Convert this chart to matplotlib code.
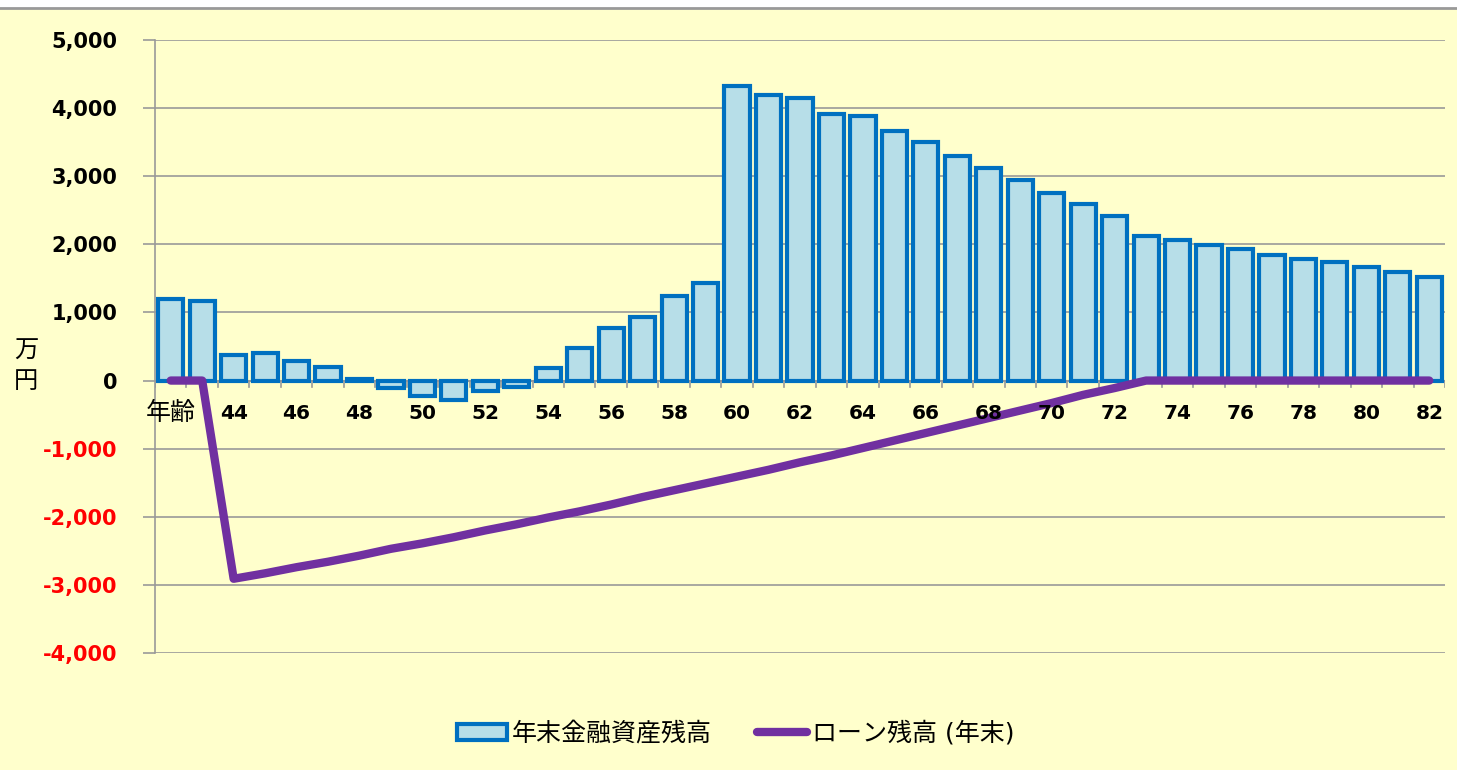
import numpy as np
import matplotlib
matplotlib.use('Agg')
import matplotlib.pyplot as plt
from matplotlib.patches import Rectangle
from matplotlib.lines import Line2D
from matplotlib.ticker import FuncFormatter

plt.rcParams['font.family'] = ['DejaVu Sans', 'Noto Sans CJK JP']

ages = list(range(42, 83))
assets = [1200, 1175, 380, 410, 290, 205, 30, -110, -220, -280,
          -150, -100, 190, 485, 765, 940, 1235, 1430, 4320, 4190,
          4150, 3920, 3880, 3670, 3500, 3300, 3120, 2950, 2760, 2590,
          2420, 2120, 2060, 1985, 1925, 1850, 1790, 1735, 1660, 1600,
          1520]
loan = [0, 0, -2910, -2830, -2740, -2660, -2570, -2470, -2390, -2300,
        -2200, -2110, -2010, -1920, -1820, -1710, -1610, -1510, -1410, -1310,
        -1200, -1100, -990, -880, -770, -660, -550, -440, -330, -210,
        -110, 0, 0, 0, 0, 0, 0, 0, 0, 0,
        0]
tick_labels = ['年齢' if a == 42 else str(a) for a in ages]

W, H = 1457, 770
fig = plt.figure(figsize=(W / 100, H / 100), dpi=100, facecolor='white')
# yellow chart area with grey top border
fig.add_artist(Rectangle((0, 0), 1, 1 - 9 / H, transform=fig.transFigure,
                         facecolor='#FFFFCC', edgecolor='none', zorder=-2))
fig.add_artist(Line2D([0, 1], [1 - 8 / H, 1 - 8 / H], transform=fig.transFigure,
                      color='#999999', lw=2))

ax = fig.add_axes([155 / W, 1 - 653 / H, (1445 - 155) / W, (653 - 40) / H])
ax.set_facecolor('none')

x = np.arange(len(ages))
bars = ax.bar(x, assets, width=0.8, color='#B7DEE8', edgecolor='#0070C0',
              linewidth=3, zorder=2, label='年末金融資産残高')
line, = ax.plot(x, loan, color='#7030A0', lw=6, solid_capstyle='round', zorder=3,
                label='ローン残高 (年末)')

ax.set_xlim(-0.5, len(ages) - 0.5)
ax.set_ylim(-4000, 5000)
ax.set_yticks(np.arange(-4000, 5001, 1000))
ax.yaxis.set_major_formatter(FuncFormatter(lambda v, p: f'{int(v):,}'))
ax.grid(axis='y', color='#999999', lw=1.2, zorder=0)
ax.set_axisbelow(True)

for s in ['top', 'right', 'bottom']:
    ax.spines[s].set_visible(False)
ax.spines['left'].set_color('#999999')
ax.spines['left'].set_linewidth(1.2)
ax.axhline(0, color='#999999', lw=1.5, zorder=1)

ax.tick_params(axis='y', length=9, width=1.2, color='#999999', pad=18)
for lbl, v in zip(ax.get_yticklabels(), ax.get_yticks()):
    lbl.set_fontsize(15)
    lbl.set_fontweight('bold')
    lbl.set_color('red' if v < 0 else 'black')

# category labels below the zero line
ax.set_xticks([])
for i, t in enumerate(tick_labels):
    if i == 0:
        ax.text(i, -480, t, ha='center', va='center', fontsize=18)
    elif i % 2 == 0:
        ax.text(i, -480, t, ha='center', va='center', fontsize=14.5,
                fontweight='bold')
for i in range(len(ages) + 1):
    ax.plot([i - 0.5, i - 0.5], [0, -90], color='#999999', lw=1.2, zorder=1)

fig.text(26 / W, 1 - 366 / H, '万\n円', ha='center', va='center',
         fontsize=17.5, linespacing=1.35)

fig.legend([bars, line], ['年末金融資産残高', 'ローン残高 (年末)'],
           loc='center', bbox_to_anchor=(0.505, 1 - 733 / H), ncol=2,
           frameon=False, fontsize=18, handlelength=2.0, handleheight=0.6,
           handletextpad=0.2, columnspacing=1.8)

fig.savefig('out.png', dpi=100, facecolor=fig.get_facecolor())
